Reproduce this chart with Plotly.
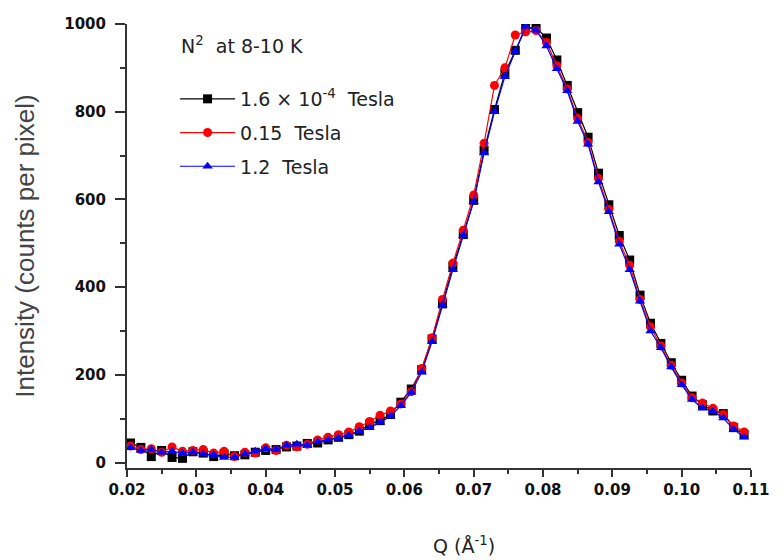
import plotly.graph_objects as go

# ---- data ----
q = [0.0205, 0.0220, 0.0235, 0.0250, 0.0265, 0.0280, 0.0295, 0.0310, 0.0325, 0.0340,
     0.0355, 0.0370, 0.0385, 0.0400, 0.0415, 0.0430, 0.0445, 0.0460, 0.0475, 0.0490,
     0.0505, 0.0520, 0.0535, 0.0550, 0.0565, 0.0580, 0.0595, 0.0610, 0.0625, 0.0640,
     0.0655, 0.0670, 0.0685, 0.0700, 0.0715, 0.0730, 0.0745, 0.0760, 0.0775, 0.0790,
     0.0805, 0.0820, 0.0835, 0.0850, 0.0865, 0.0880, 0.0895, 0.0910, 0.0925, 0.0940,
     0.0955, 0.0970, 0.0985, 0.1000, 0.1015, 0.1030, 0.1045, 0.1060, 0.1075, 0.1090]

black = [45, 35, 14, 28, 12, 10, 25, 22, 14, 20,
         16, 18, 24, 28, 30, 36, 38, 44, 45, 52,
         58, 64, 72, 88, 96, 110, 138, 168, 212, 282,
         362, 448, 520, 598, 712, 805, 888, 940, 990, 992,
         968, 918, 860, 798, 742, 660, 588, 518, 462, 382,
         318, 272, 228, 188, 152, 132, 118, 112, 80, 64]

red = [38, 30, 32, 24, 36, 26, 28, 30, 22, 26,
       14, 24, 22, 34, 28, 40, 36, 42, 52, 58,
       64, 70, 82, 94, 108, 118, 134, 162, 215, 285,
       372, 455, 530, 610, 728, 860, 900, 975, 982, 985,
       958, 905, 852, 785, 730, 648, 578, 505, 450, 372,
       310, 266, 222, 182, 148, 136, 124, 110, 84, 70]

blue = [34, 28, 30, 24, 26, 22, 24, 20, 18, 12,
        12, 20, 26, 32, 30, 40, 42, 40, 48, 52,
        56, 62, 72, 80, 92, 106, 130, 160, 206, 276,
        360, 440, 518, 595, 706, 800, 880, 938, 995, 986,
        950, 898, 848, 778, 726, 640, 572, 498, 440, 368,
        300, 262, 218, 178, 144, 124, 118, 102, 76, 58]

x_ticks = [0.02, 0.03, 0.04, 0.05, 0.06, 0.07, 0.08, 0.09, 0.10, 0.11]
x_tick_labels = ["0.02", "0.03", "0.04", "0.05", "0.06", "0.07", "0.08", "0.09", "0.10", "0.11"]
y_ticks = [0, 200, 400, 600, 800, 1000]
y_tick_labels = ["0", "200", "400", "600", "800", "1000"]

series = [
    ("1.6 \u00d7 10<sup>-4</sup>  Tesla", black, "#000000", "square"),
    ("0.15  Tesla", red, "#ff0000", "circle"),
    ("1.2  Tesla", blue, "#0000ff", "triangle-up"),
]

FONT = "Liberation Sans, Arial, sans-serif"
WIDE = "DejaVu Sans, Verdana, sans-serif"

fig = go.Figure()
for i, (name, vals, col, sym) in enumerate(series):
    fig.add_trace(go.Scatter(
        x=q, y=vals, name=name, mode="lines+markers",
        legendgroup=f"g{i}",
        line=dict(color=col, width=1.2),
        marker=dict(symbol=sym, size=9, color=col),
    ))

tickfont = dict(family=WIDE, size=15, color="#111", weight="bold")

fig.update_layout(
    width=782, height=560,
    margin=dict(l=127, r=19, t=24, b=92),
    paper_bgcolor="white", plot_bgcolor="white",
    font=dict(family=FONT, color="#222"),
    showlegend=True,
    legend=dict(
        x=(176 - 127) / 636, y=1 - (80 - 24) / 444, xanchor="left", yanchor="top",
        bgcolor="rgba(0,0,0,0)",
        font=dict(family=WIDE, size=19, color="#222"),
        tracegroupgap=6,
        traceorder="grouped",
        itemwidth=55,
    ),
    xaxis=dict(
        range=[0.02, 0.11], tickvals=x_ticks, ticktext=x_tick_labels,
        showline=True, linecolor="#333", linewidth=2, mirror=False,
        ticks="outside", ticklen=7, tickwidth=2, tickcolor="#333",
        showgrid=False, zeroline=False,
        tickfont=tickfont,
        minor=dict(dtick=0.005, tick0=0.02, ticks="outside", ticklen=4, tickwidth=2, tickcolor="#333"),
    ),
    yaxis=dict(
        range=[-12, 1000], tickvals=y_ticks, ticktext=y_tick_labels,
        showline=True, linecolor="#333", linewidth=2, mirror=False,
        ticks="outside", ticklen=10, tickwidth=2, tickcolor="#333",
        ticklabelstandoff=6,
        showgrid=False, zeroline=False,
        tickfont=tickfont,
        minor=dict(dtick=100, tick0=0, ticks="outside", ticklen=5, tickwidth=2, tickcolor="#333"),
        title=dict(text="Intensity (counts per pixel)",
                   font=dict(family=FONT, size=26, color="#444"), standoff=22),
    ),
    annotations=[
        dict(text="Q (\u00c5<sup>-1</sup>)", xref="paper", yref="paper",
             x=(470 - 127) / 636, y=-(545 - 468) / 444, xanchor="center", yanchor="middle",
             showarrow=False, font=dict(family=WIDE, size=19, color="#222")),
        dict(text="N<sup>2</sup>  at 8-10 K", xref="paper", yref="paper",
             x=(180 - 127) / 636, y=1 - (45 - 24) / 444, xanchor="left", yanchor="middle",
             showarrow=False, font=dict(family=WIDE, size=19, color="#222")),
    ],
)

fig.write_html("out.html")
